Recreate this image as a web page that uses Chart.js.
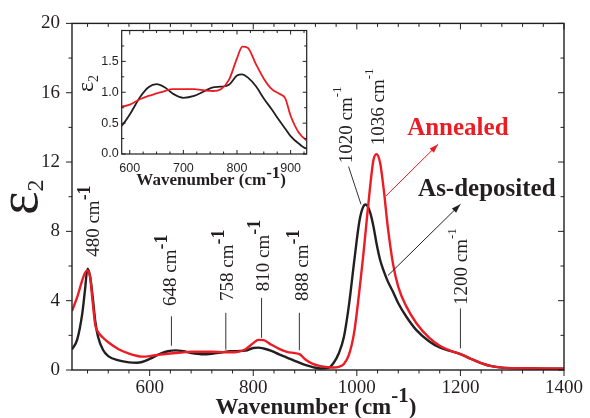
<!DOCTYPE html>
<html>
<head>
<meta charset="utf-8">
<script src="https://cdn.jsdelivr.net/npm/chart.js@4.4.0/dist/chart.umd.min.js"></script>
<style>
  body { margin: 0; background: #fff; }
  #wrap { position: relative; width: 590px; height: 418px; }
  #main { position: absolute; left: 0; top: 0; }
  #inset { position: absolute; left: 70px; top: 20px; }
</style>
</head>
<body>
<div id="wrap">
  <canvas id="main" width="590" height="418"></canvas>
  <canvas id="inset" width="246" height="178"></canvas>
</div>
<script>
// spectra (cm-1 vs eps2)
const wavenumber = [450, 460, 470, 475, 480, 485, 490, 495, 500, 510, 520, 540, 560, 575, 585, 600, 620, 635, 650, 665, 680, 700, 720, 740, 755, 770, 785, 800, 810, 820, 835, 850, 865, 880, 890, 900, 915, 930, 945, 955, 965, 975, 985, 995, 1005, 1012, 1017, 1025, 1032, 1038, 1045, 1052, 1060, 1070, 1080, 1095, 1115, 1140, 1160, 1180, 1200, 1220, 1240, 1260, 1280, 1320, 1360, 1400];
const asDeposited = [1.19, 1.75, 3.3, 4.6, 5.85, 5.4, 4.2, 2.8, 1.95, 1.15, 0.8, 0.55, 0.44, 0.42, 0.46, 0.64, 0.93, 1.08, 1.13, 1.08, 0.98, 0.91, 0.94, 1.02, 1.08, 1.09, 1.12, 1.27, 1.29, 1.24, 1.1, 0.9, 0.72, 0.53, 0.41, 0.29, 0.17, 0.09, 0.12, 0.4, 0.95, 1.9, 3.8, 6.3, 8.6, 9.4, 9.55, 9.15, 8.3, 7.3, 6.35, 5.7, 5.1, 4.5, 3.85, 3.1, 2.3, 1.65, 1.3, 1.1, 0.92, 0.65, 0.4, 0.22, 0.14, 0.1, 0.08, 0.07];
const annealed = [3.41, 4.2, 5.2, 5.6, 5.75, 5.35, 3.9, 2.6, 2.2, 1.86, 1.6, 1.2, 0.95, 0.82, 0.77, 0.8, 0.89, 0.94, 0.98, 1.02, 1.05, 1.05, 1.05, 1.03, 1.02, 1.05, 1.2, 1.55, 1.74, 1.72, 1.46, 1.22, 1.05, 0.97, 0.9, 0.62, 0.35, 0.22, 0.16, 0.14, 0.18, 0.35, 0.9, 2.2, 4.6, 6.5, 8.0, 10.4, 12.1, 12.45, 11.95, 10.4, 8.2, 6.1, 4.8, 3.7, 2.7, 1.85, 1.4, 1.12, 0.92, 0.65, 0.4, 0.22, 0.14, 0.1, 0.09, 0.08];

// peak annotations, in data units (x = wavenumber, y = eps2 at text start)
const peakText = ['480', '648', '758', '810', '888', '1020', '1036', '1200'];
const peakTextX = [489, 638, 749, 817, 894, 978, 1039, 1200];
const peakTextY = [6.53, 3.7, 3.98, 4.55, 3.98, 11.93, 12.97, 3.75];
const peakSupSmall = [false, false, false, false, false, true, true, true];
const markX = [642, 747, 816, 889, 1200];
const markFrom = [1.4, 1.17, 1.86, 1.14, 1.25];
const markTo = [3.1, 3.3, 4.16, 3.3, 3.55];

const RED = '#ec1c24';
const INK = '#231f20';
const SERIF = '"Liberation Serif", "Times New Roman", serif';
const SANS = '"Liberation Sans", Arial, sans-serif';

const toXY = ys => wavenumber.map((x, i) => ({ x: x, y: ys[i] }));

function seg(ctx, x1, y1, x2, y2) {
  ctx.beginPath();
  ctx.moveTo(x1, y1);
  ctx.lineTo(x2, y2);
  ctx.stroke();
}

function arrow(ctx, x1, y1, x2, y2, color) {
  ctx.strokeStyle = color;
  ctx.fillStyle = color;
  ctx.lineWidth = 1;
  seg(ctx, x1, y1, x2, y2);
  const a = Math.atan2(y2 - y1, x2 - x1);
  ctx.beginPath();
  ctx.moveTo(x2, y2);
  ctx.lineTo(x2 - 9 * Math.cos(a) + 3 * Math.sin(a), y2 - 9 * Math.sin(a) - 3 * Math.cos(a));
  ctx.lineTo(x2 - 9 * Math.cos(a) - 3 * Math.sin(a), y2 - 9 * Math.sin(a) + 3 * Math.cos(a));
  ctx.closePath();
  ctx.fill();
}

// pieces: [text, font, dy]; drawn from x, centred if align == 'center'
function rich(ctx, pieces, x, y, align) {
  let w = 0;
  pieces.forEach(p => { ctx.font = p[1]; w += ctx.measureText(p[0]).width; });
  let cx = align === 'center' ? x - w / 2 : x;
  ctx.textAlign = 'left';
  ctx.textBaseline = 'alphabetic';
  pieces.forEach(p => {
    ctx.font = p[1];
    ctx.fillText(p[0], cx, y + p[2]);
    cx += ctx.measureText(p[0]).width;
  });
}

function frame(chart, o) {
  const { ctx, chartArea: a } = chart;
  const x = chart.scales.x, y = chart.scales.y;
  ctx.save();
  ctx.strokeStyle = INK;
  ctx.lineWidth = o.lw;
  ctx.strokeRect(a.left, a.top, a.right - a.left, a.bottom - a.top);
  ctx.lineWidth = 1;
  for (let v = o.xFirst; v <= x.max; v += o.xStep) {
    const px = x.getPixelForValue(v);
    const L = Math.abs(v % o.xMajor) < 1e-6 ? o.major : o.minor;
    seg(ctx, px, a.bottom, px, a.bottom + (o.out ? L : -L));
    seg(ctx, px, a.top, px, a.top + L);
  }
  for (let v = 0; v <= y.max + 1e-9; v += o.yStep) {
    const py = y.getPixelForValue(v);
    const L = Math.abs((v / o.yMajor) - Math.round(v / o.yMajor)) < 1e-6 ? o.major : o.minor;
    seg(ctx, a.left, py, a.left + (o.out ? -L : L), py);
    seg(ctx, a.right, py, a.right - L, py);
  }
  ctx.restore();
}

const mainDecor = {
  id: 'mainDecor',
  afterDraw(chart) {
    const { ctx, chartArea: a } = chart;
    const x = chart.scales.x, y = chart.scales.y;
    frame(chart, { lw: 1.4, out: true, major: 6, minor: 3.5, xFirst: 480, xStep: 40, xMajor: 200, yStep: 2, yMajor: 4 });
    ctx.save();
    ctx.fillStyle = INK;

    // marker lines
    ctx.strokeStyle = '#333';
    ctx.lineWidth = 1;
    markX.forEach((v, i) => {
      const px = x.getPixelForValue(v);
      seg(ctx, px, y.getPixelForValue(markFrom[i]), px, y.getPixelForValue(markTo[i]));
    });
    seg(ctx, x.getPixelForValue(984), y.getPixelForValue(11.74), x.getPixelForValue(1008), y.getPixelForValue(9.56));

    // rotated peak labels
    peakText.forEach((t, i) => {
      ctx.save();
      ctx.translate(x.getPixelForValue(peakTextX[i]), y.getPixelForValue(peakTextY[i]));
      ctx.rotate(-Math.PI / 2);
      const sup = peakSupSmall[i] ? ['-1', '13px ' + SERIF, -4] : ['-1', 'bold 18px ' + SERIF, -2.5];
      rich(ctx, [[t + ' cm', '19px ' + SERIF, 6.5], sup], 0, 0, 'left');
      ctx.restore();
    });

    // series callouts
    arrow(ctx, x.getPixelForValue(1056), y.getPixelForValue(10.04), x.getPixelForValue(1157), y.getPixelForValue(13.03), RED);
    arrow(ctx, x.getPixelForValue(1060), y.getPixelForValue(5.45), x.getPixelForValue(1200), y.getPixelForValue(9.56), INK);
    ctx.fillStyle = RED;
    rich(ctx, [['Annealed', 'bold 25px ' + SERIF, 0]], x.getPixelForValue(1195), y.getPixelForValue(13.58), 'center');
    ctx.fillStyle = INK;
    rich(ctx, [['As-deposited', 'bold 25px ' + SERIF, 0]], x.getPixelForValue(1251), y.getPixelForValue(10.06), 'center');

    // axis titles
    rich(ctx, [['Wavenumber (cm', 'bold 23px ' + SERIF, 0], ['-1', 'bold 21px ' + SERIF, -12], [')', 'bold 23px ' + SERIF, 0]], (a.left + a.right) / 2 - 2, 414, 'center');
    ctx.save();
    ctx.translate(37, 215);
    ctx.rotate(-Math.PI / 2);
    rich(ctx, [['\u03b5', '56px ' + SERIF, 0], ['2', '24px ' + SERIF, 6]], 0, 0, 'left');
    ctx.restore();
    ctx.restore();
  }
};

const insetDecor = {
  id: 'insetDecor',
  beforeDraw(chart) {
    const { ctx, chartArea: a } = chart;
    ctx.save();
    ctx.fillStyle = '#fff';
    ctx.fillRect(a.left, a.top, a.right - a.left, a.bottom - a.top);
    ctx.restore();
  },
  afterDraw(chart) {
    const { ctx, chartArea: a } = chart;
    frame(chart, { lw: 1.2, out: false, major: 4, minor: 2.5, xFirst: 600, xStep: 25, xMajor: 100, yStep: 0.25, yMajor: 0.5 });
    ctx.save();
    ctx.fillStyle = INK;
    rich(ctx, [['Wavenumber (cm', 'bold 17px ' + SERIF, 0], ['-1', 'bold 17px ' + SERIF, -7], [')', 'bold 17px ' + SERIF, 0]], (a.left + a.right) / 2 - 3, 165, 'center');
    ctx.translate(23, 72);
    ctx.rotate(-Math.PI / 2);
    rich(ctx, [['\u03b5', '24px ' + SERIF, 0], ['2', '14px ' + SERIF, 5]], 0, 0, 'left');
    ctx.restore();
  }
};

const tickFont = { family: SERIF, size: 19 };

new Chart(document.getElementById('main'), {
  type: 'line',
  data: {
    datasets: [
      { label: 'Annealed', data: toXY(annealed), borderColor: RED, borderWidth: 2.4 },
      { label: 'As-deposited', data: toXY(asDeposited), borderColor: INK, borderWidth: 2.4 }
    ]
  },
  options: {
    responsive: false,
    animation: false,
    layout: { padding: { left: 0, right: 21, top: 18, bottom: 0 } },
    elements: { point: { radius: 0 }, line: { cubicInterpolationMode: 'monotone' } },
    plugins: { legend: { display: false }, tooltip: { enabled: false } },
    scales: {
      x: {
        type: 'linear', min: 450, max: 1400,
        grid: { display: false, drawTicks: false }, border: { display: false },
        ticks: { stepSize: 200, autoSkip: false, maxRotation: 0, padding: 7, color: INK, font: tickFont,
          callback: v => (v % 200 === 0 ? v : '') },
        afterFit: s => { s.height = 48; }
      },
      y: {
        min: 0, max: 20,
        grid: { display: false, drawTicks: false }, border: { display: false },
        ticks: { stepSize: 4, autoSkip: false, padding: 12, color: INK, font: tickFont },
        afterFit: s => { s.width = 72; }
      }
    }
  },
  plugins: [mainDecor]
});

new Chart(document.getElementById('inset'), {
  type: 'line',
  data: {
    datasets: [
      { label: 'Annealed', data: toXY(annealed), borderColor: RED, borderWidth: 1.8 },
      { label: 'As-deposited', data: toXY(asDeposited), borderColor: INK, borderWidth: 1.8 }
    ]
  },
  options: {
    responsive: false,
    animation: false,
    layout: { padding: { left: 0, right: 9.3, top: 6, bottom: 0 } },
    elements: { point: { radius: 0 }, line: { cubicInterpolationMode: 'monotone' } },
    plugins: { legend: { display: false }, tooltip: { enabled: false } },
    scales: {
      x: {
        type: 'linear', min: 585, max: 930,
        grid: { display: false, drawTicks: false }, border: { display: false },
        ticks: { stepSize: 100, includeBounds: false, autoSkip: false, maxRotation: 0, padding: 7, color: INK, font: { family: SANS, size: 12.5 },
          callback: v => (v % 100 === 0 ? v : '') },
        afterFit: s => { s.height = 44; }
      },
      y: {
        min: 0, max: 2,
        grid: { display: false, drawTicks: false }, border: { display: false },
        ticks: { stepSize: 0.5, autoSkip: false, padding: 3, color: INK, font: { family: SANS, size: 12.5 },
          callback: v => (v < 1.9 ? v.toFixed(1) : '') },
        afterFit: s => { s.width = 51.7; }
      }
    }
  },
  plugins: [insetDecor]
});
</script>
</body>
</html>
